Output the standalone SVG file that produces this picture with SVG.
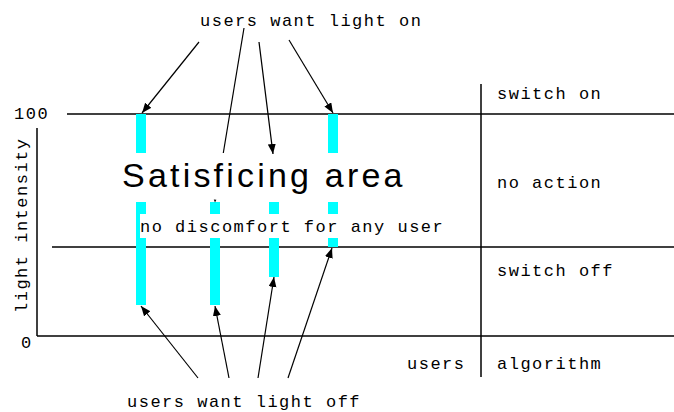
<svg xmlns="http://www.w3.org/2000/svg" width="674" height="412" viewBox="0 0 674 412">
<style>
.mono{font-family:"Liberation Mono","Courier New",monospace;font-size:17px;letter-spacing:1.5px;fill:#000}
.big{font-family:"Liberation Sans",Arial,sans-serif;font-size:34px;letter-spacing:3.2px;fill:#000}
.ax{stroke:#000;stroke-width:1.5;fill:none}
.bar{fill:#00ffff}
.con{stroke:#000;stroke-width:1.2;fill:none}
</style>
<defs>
<marker id="ah" markerUnits="userSpaceOnUse" markerWidth="11" markerHeight="9" refX="10" refY="4" orient="auto">
<path d="M0,0 L10,4 L0,8 z" fill="#000"/>
</marker>
</defs>
<rect width="674" height="412" fill="#fff"/>
<g id="axes">
<line class="ax" x1="67" y1="114" x2="674" y2="114"/>
<line class="ax" x1="52" y1="247" x2="674" y2="247"/>
<line class="ax" x1="37" y1="336" x2="674" y2="336"/>
<line class="ax" x1="37" y1="128" x2="37" y2="336"/>
<line class="ax" x1="481" y1="84" x2="481" y2="377"/>
<text class="mono" x="14" y="119">100</text>
<text class="mono" x="21" y="348">0</text>
<text class="mono" transform="translate(27,313) rotate(-90)">light intensity</text>
</g>
<g id="bar1">
<rect class="bar" x="136" y="114" width="10" height="39"/>
<rect class="bar" x="136" y="202" width="10" height="12"/>
<rect class="bar" x="136" y="214" width="4" height="24"/>
<rect class="bar" x="136" y="238" width="10" height="67"/>
</g>
<g id="bar2">
<rect class="bar" x="210" y="202" width="10" height="12"/>
<rect class="bar" x="210" y="238" width="10" height="67"/>
</g>
<g id="bar3">
<rect class="bar" x="269" y="202" width="10" height="12"/>
<rect class="bar" x="269" y="238" width="10" height="39"/>
</g>
<g id="bar4">
<rect class="bar" x="328" y="114" width="10" height="39"/>
<rect class="bar" x="328" y="202" width="10" height="12"/>
<rect class="bar" x="328" y="238" width="10" height="9"/>
</g>
<g id="satisficing">
<text class="big" x="122" y="187">Satisficing area</text>
<text class="mono" x="140" y="232">no discomfort for any user</text>
</g>
<g id="want-on"><text class="mono" x="200" y="26">users want light on</text></g>
<g id="want-off"><text class="mono" x="127" y="407">users want light off</text></g>
<g id="algorithm">
<text class="mono" x="497" y="99">switch on</text>
<text class="mono" x="497" y="188">no action</text>
<text class="mono" x="497" y="276">switch off</text>
<text class="mono" x="497" y="369">algorithm</text>
<text class="mono" x="407" y="369">users</text>
</g>
<g id="connectors">
<line class="con" x1="199" y1="42" x2="142" y2="113" marker-end="url(#ah)"/>
<line class="con" x1="244" y1="28" x2="223.3" y2="153"/>
<polygon points="213.8,199.5 216.4,199.8 215,202.5" fill="#000"/>
<line class="con" x1="259" y1="42" x2="273" y2="154" marker-end="url(#ah)"/>
<line class="con" x1="289" y1="40" x2="333" y2="113" marker-end="url(#ah)"/>
<line class="con" x1="198" y1="378" x2="141" y2="306" marker-end="url(#ah)"/>
<line class="con" x1="229" y1="378" x2="215" y2="306" marker-end="url(#ah)"/>
<line class="con" x1="258" y1="378" x2="274" y2="277" marker-end="url(#ah)"/>
<line class="con" x1="288" y1="378" x2="332" y2="248" marker-end="url(#ah)"/>
</g>
</svg>
